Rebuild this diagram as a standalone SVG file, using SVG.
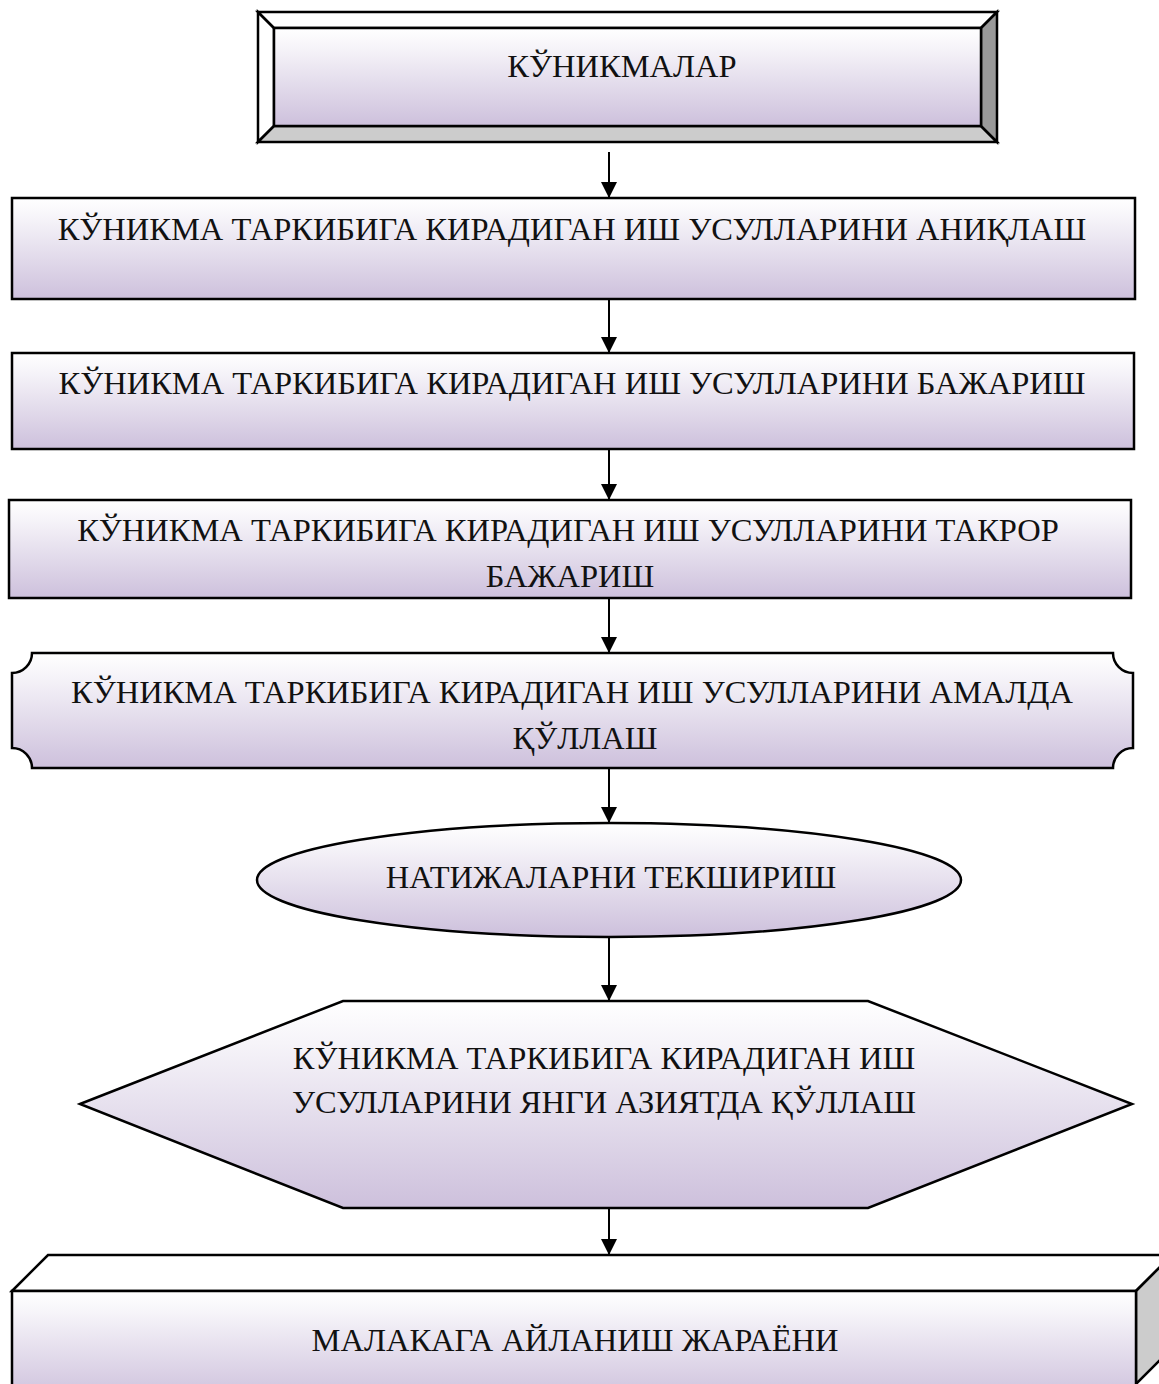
<svg xmlns="http://www.w3.org/2000/svg" width="1159" height="1384" viewBox="0 0 1159 1384">
<defs>
<linearGradient id="g" x1="0" y1="0" x2="0" y2="1">
<stop offset="0" stop-color="#ffffff"/>
<stop offset="0.2" stop-color="#f6f4f9"/>
<stop offset="1" stop-color="#cdc0dc"/>
</linearGradient>
<marker id="ah" markerUnits="userSpaceOnUse" markerWidth="18" markerHeight="16" refX="16" refY="8" orient="auto">
<path d="M0,0 L16,8 L0,16 Z" fill="#000"/>
</marker>
<style>
.s{stroke:#000;stroke-width:2.5;stroke-linejoin:miter}
.f{fill:url(#g)}
.t{font-family:"Liberation Serif","Times New Roman",serif;font-size:32.5px;fill:#111;text-anchor:middle}
.c{stroke:#000;stroke-width:2;fill:none;marker-end:url(#ah)}
</style>
</defs>
<rect width="1159" height="1384" fill="#fff"/>

<g id="n1">
<polygon points="258,12 274,28 274,126 258,142" fill="#fff" class="s"/>
<polygon points="258,12 997,12 981,28 274,28" fill="#fff" class="s"/>
<polygon points="258,142 274,126 981,126 997,142" fill="#cccccc" class="s"/>
<polygon points="997,12 997,142 981,126 981,28" fill="#999999" class="s"/>
<rect x="274" y="28" width="707" height="98" class="f s"/>
<text x="622" y="77" class="t">КЎНИКМАЛАР</text>
</g>

<g id="n2">
<rect x="12" y="198" width="1123" height="101" class="f s"/>
<text x="572" y="240" class="t">КЎНИКМА ТАРКИБИГА КИРАДИГАН ИШ УСУЛЛАРИНИ АНИҚЛАШ</text>
</g>

<g id="n3">
<rect x="12" y="353" width="1122" height="96" class="f s"/>
<text x="572" y="394" class="t">КЎНИКМА ТАРКИБИГА КИРАДИГАН ИШ УСУЛЛАРИНИ БАЖАРИШ</text>
</g>

<g id="n4">
<rect x="9" y="500" width="1122" height="98" class="f s"/>
<text x="568" y="541" class="t">КЎНИКМА ТАРКИБИГА КИРАДИГАН ИШ УСУЛЛАРИНИ ТАКРОР</text>
<text x="570" y="587" class="t">БАЖАРИШ</text>
</g>

<g id="n5">
<path d="M32,653 H1113 A20,20 0 0 0 1133,673 V748 A20,20 0 0 0 1113,768 H32 A20,20 0 0 0 12,748 V673 A20,20 0 0 0 32,653 Z" class="f s"/>
<text x="572" y="703" class="t">КЎНИКМА ТАРКИБИГА КИРАДИГАН ИШ УСУЛЛАРИНИ АМАЛДА</text>
<text x="585" y="749" class="t">ҚЎЛЛАШ</text>
</g>

<g id="n6">
<ellipse cx="609" cy="880" rx="352" ry="57" class="f s"/>
<text x="611" y="888" class="t">НАТИЖАЛАРНИ ТЕКШИРИШ</text>
</g>

<g id="n7">
<polygon points="80,1104 343,1001 868,1001 1132,1104 868,1208 343,1208" class="f s"/>
<text x="604" y="1069" class="t">КЎНИКМА ТАРКИБИГА КИРАДИГАН ИШ</text>
<text x="604" y="1113" class="t">УСУЛЛАРИНИ ЯНГИ АЗИЯТДА ҚЎЛЛАШ</text>
</g>

<g id="n8">
<polygon points="12,1291 48,1255 1172,1255 1136,1291" fill="#ffffff" class="s"/>
<polygon points="1136,1291 1172,1255 1172,1348 1136,1384" fill="#cccccc" class="s"/>
<rect x="12" y="1291" width="1124" height="110" class="f s"/>
<text x="575" y="1351" class="t">МАЛАКАГА АЙЛАНИШ ЖАРАЁНИ</text>
</g>

<g id="connectors">
<line x1="609" y1="152" x2="609" y2="198" class="c"/>
<line x1="609" y1="299" x2="609" y2="353" class="c"/>
<line x1="609" y1="449" x2="609" y2="500" class="c"/>
<line x1="609" y1="598" x2="609" y2="653" class="c"/>
<line x1="609" y1="768" x2="609" y2="823" class="c"/>
<line x1="609" y1="937" x2="609" y2="1001" class="c"/>
<line x1="609" y1="1208" x2="609" y2="1255" class="c"/>
</g>
</svg>
